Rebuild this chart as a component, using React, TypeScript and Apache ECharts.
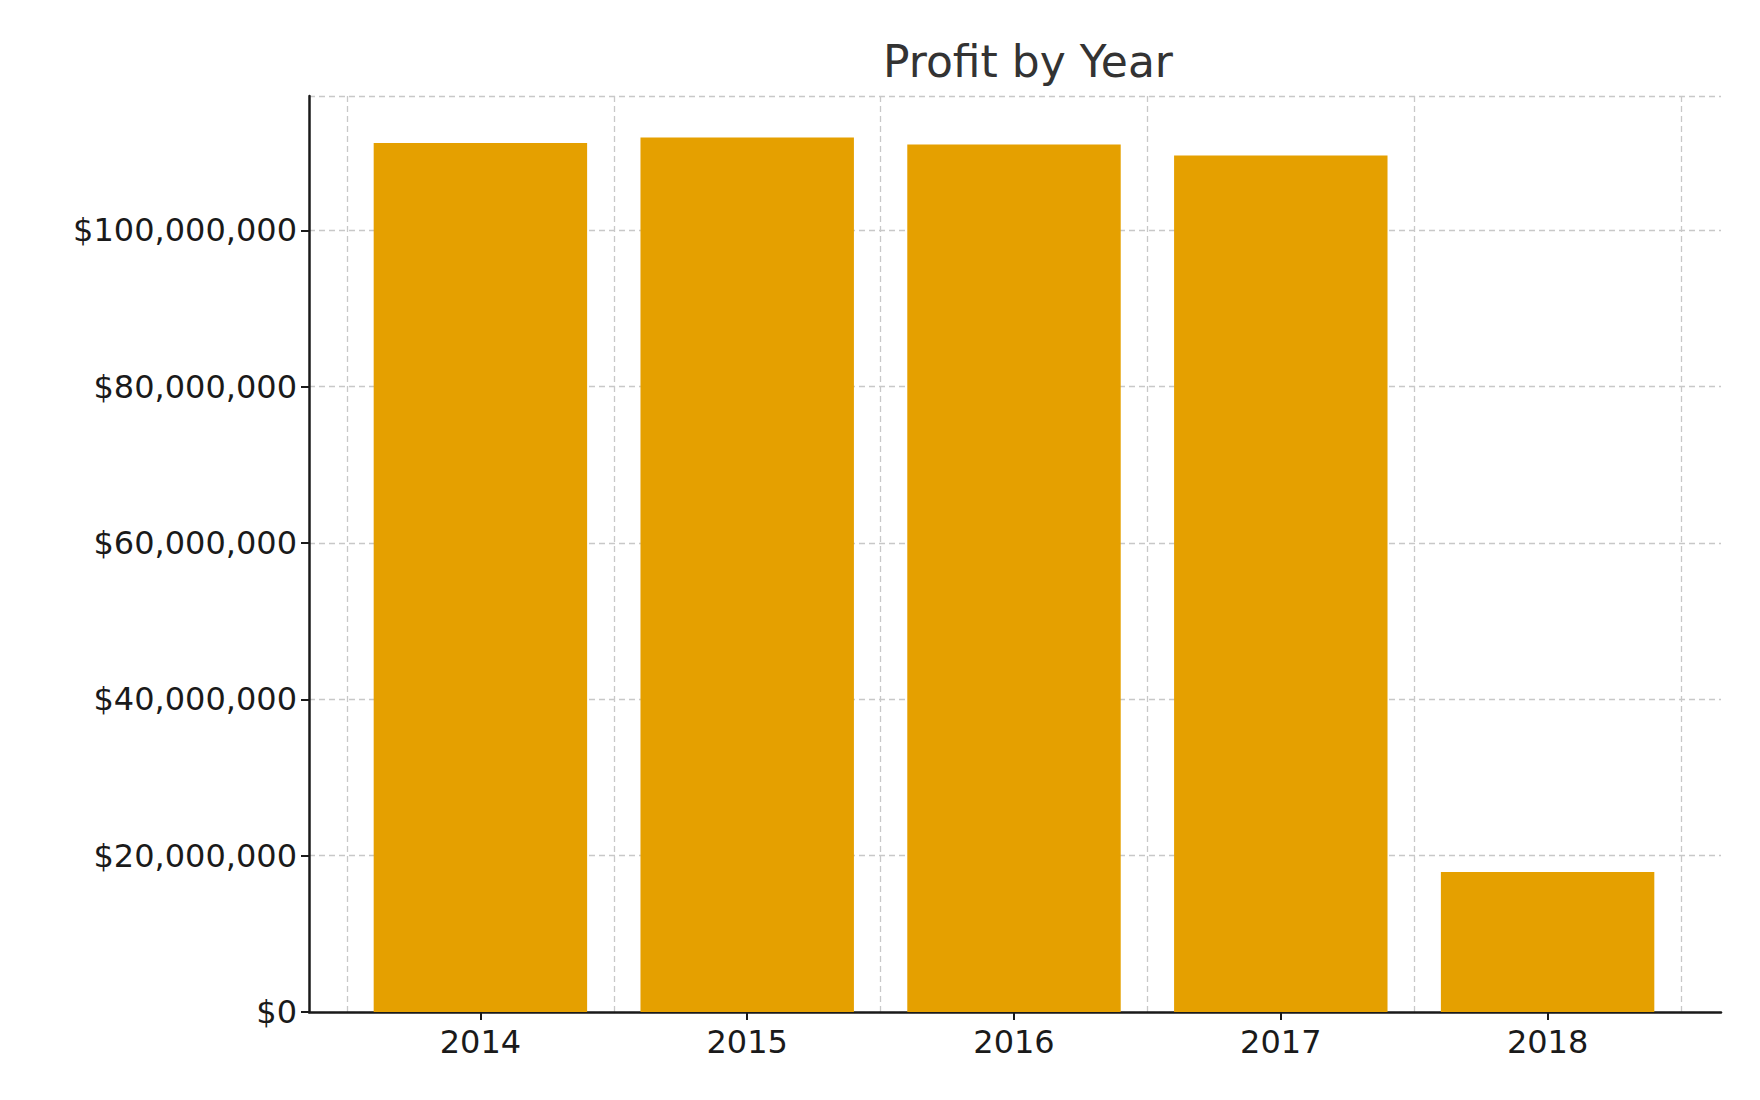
import React, { useEffect, useRef } from "react";
import * as echarts from "echarts";

const years = ["2014", "2015", "2016", "2017", "2018"];
const profit = [111200000, 111900000, 111000000, 109600000, 17900000];
const yMax = 117200000;
const yStep = 20000000;

const fmt = (v: number) => "$" + Math.round(v).toLocaleString("en-US");

export default function App() {
  const ref = useRef<HTMLDivElement>(null);
  useEffect(() => {
    const chart = echarts.init(ref.current!, null, { renderer: "svg" });
    const font = "DejaVu Sans";
    const dash = { color: "#c8c8c8", type: [6, 4] as any, width: 1.3 };
    chart.setOption({
      animation: false,
      textStyle: { fontFamily: font },
      title: {
        text: "Profit by Year",
        left: 1015,
        textAlign: "center",
        top: 26,
        textStyle: { fontFamily: font, fontSize: 44, fontWeight: "normal", color: "#333" },
      },
      grid: [
        { left: 301, right: 31, top: 88, bottom: 80 },
        { left: 339, right: 71, top: 88, bottom: 80 },
      ],
      xAxis: [
        {
          gridIndex: 0, type: "value", min: 0, max: 1,
          axisLine: { show: true, onZero: false, lineStyle: { color: "#1a1a1a", width: 2.5 } },
          axisTick: { show: false }, axisLabel: { show: false }, splitLine: { show: false },
        },
        {
          gridIndex: 1, type: "category", data: years,
          axisLine: { show: false },
          axisTick: { show: true, alignWithLabel: true, length: 8, lineStyle: { color: "#1a1a1a", width: 2 } },
          axisLabel: { fontSize: 32, color: "#1a1a1a", margin: 14, fontFamily: font },
          splitLine: { show: true, lineStyle: dash },
        },
      ],
      yAxis: [
        {
          gridIndex: 0, type: "value", min: 0, max: yMax, interval: yStep,
          axisLine: { show: true, lineStyle: { color: "#1a1a1a", width: 2.5 } },
          axisTick: { show: true, length: 8, lineStyle: { color: "#1a1a1a", width: 2 } },
          axisLabel: { fontSize: 32, color: "#1a1a1a", margin: 12, formatter: fmt, fontFamily: font, showMaxLabel: false },
          splitLine: { show: true, lineStyle: dash },
        },
        {
          gridIndex: 1, type: "value", min: 0, max: yMax, show: false,
          splitLine: { show: false },
        },
      ],
      series: [
        {
          type: "bar",
          xAxisIndex: 1,
          yAxisIndex: 1,
          data: profit,
          barWidth: "80%",
          itemStyle: { color: "#E5A000" },
          z: 1,
        },
      ],
    });
    return () => chart.dispose();
  }, []);
  return <div ref={ref} style={{ width: 1744, height: 1084 }} />;
}
